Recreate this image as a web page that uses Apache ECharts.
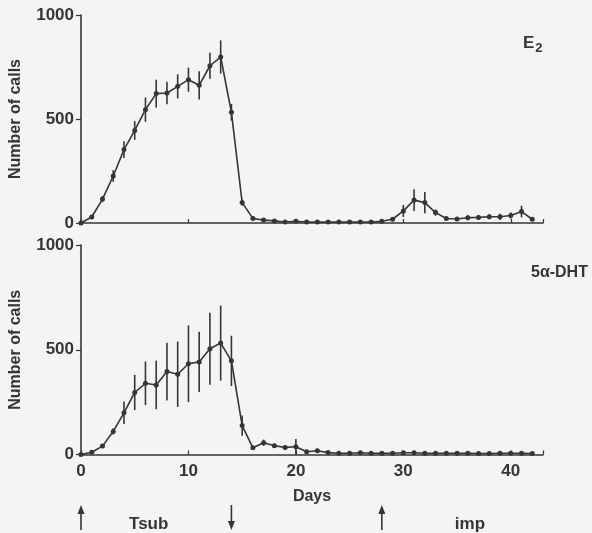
<!DOCTYPE html>
<html>
<head>
<meta charset="utf-8">
<script src="https://cdn.jsdelivr.net/npm/echarts@6/dist/echarts.min.js"></script>
<style>
  html, body { margin: 0; padding: 0; background: #f4f4f2; }
  #main { width: 592px; height: 533px; }
</style>
</head>
<body>
<div id="main"></div>
<script>
// days of the experiment
let days = [];
for (let d = 0; d <= 42; d++) {
    days.push(d);
}

// E2 group: mean number of calls and error (+/-)
let e2Mean = [0, 29, 115, 226, 353, 445, 545, 622, 625, 657,
    689, 662, 756, 798, 532, 98, 22, 14, 10, 5,
    8, 5, 5, 5, 5, 5, 5, 5, 8, 18,
    58, 110, 98, 50, 22, 19, 25, 27, 30, 30,
    36, 55, 18];
let e2Err = [0, 5, 15, 28, 40, 45, 58, 67, 54, 58,
    58, 68, 62, 80, 40, 15, 8, 6, 0, 0,
    8, 0, 0, 0, 0, 0, 0, 0, 0, 5,
    29, 52, 51, 15, 5, 5, 12, 12, 12, 15,
    15, 28, 5];

// 5a-DHT group
let dhtMean = [0, 11, 40, 110, 199, 296, 340, 332, 396, 383,
    433, 442, 505, 532, 447, 138, 32, 56, 42, 34,
    37, 13, 18, 9, 6, 6, 8, 6, 6, 6,
    8, 8, 6, 6, 6, 6, 6, 5, 5, 6,
    6, 6, 5];
let dhtErr = [0, 5, 8, 15, 54, 84, 104, 116, 138, 156,
    183, 144, 172, 179, 120, 48, 8, 15, 10, 10,
    37, 5, 10, 0, 0, 0, 0, 0, 0, 0,
    0, 0, 0, 0, 0, 0, 0, 0, 0, 0,
    0, 0, 0];

let xTicks = [0, 10, 20, 30, 40];
let yTicks = [0, 500, 1000];

// treatment markers under the time axis
let arrowDays = [0, 14, 28];
let arrowDirs = ['up', 'down', 'up'];
let noteDays = [6.3, 36.2];
let noteTexts = ['Tsub', 'imp'];

let ink = '#353535';
let font = '"Liberation Sans", Arial, sans-serif';

function buildErrorSeries(mean, err, idx) {
    return {
        type: 'custom',
        xAxisIndex: idx,
        yAxisIndex: idx,
        silent: true,
        data: days.map(function (d, i) { return [d, mean[i], err[i]]; }),
        renderItem: function (params, api) {
            let x = api.value(0);
            let m = api.value(1);
            let e = api.value(2);
            if (!e) {
                return null;
            }
            let hi = api.coord([x, m + e]);
            let lo = api.coord([x, Math.max(0, m - e)]);
            return {
                type: 'line',
                shape: { x1: hi[0], y1: hi[1], x2: lo[0], y2: lo[1] },
                style: { stroke: ink, lineWidth: 1.6 },
            };
        },
        z: 3,
    };
}

function buildLineSeries(mean, idx) {
    return {
        type: 'line',
        xAxisIndex: idx,
        yAxisIndex: idx,
        data: days.map(function (d, i) { return [d, mean[i]]; }),
        symbol: 'circle',
        symbolSize: 5,
        showAllSymbol: true,
        lineStyle: { color: ink, width: 1.6 },
        itemStyle: { color: ink },
        animation: false,
        z: 4,
    };
}

function buildXAxis(idx, showLabels) {
    return {
        type: 'value',
        gridIndex: idx,
        min: 0,
        max: 43,
        interval: 10,
        axisLine: { lineStyle: { color: ink, width: 1.6 } },
        axisTick: {
            show: true,
            inside: true,
            length: 4,
            lineStyle: { color: ink, width: 1.2 },
        },
        splitLine: { show: false },
        axisLabel: {
            show: showLabels,
            color: ink,
            fontFamily: font,
            fontWeight: 'bold',
            fontSize: 17,
            margin: 8,
            customValues: xTicks,
        },
        name: showLabels ? 'Days' : '',
        nameLocation: 'middle',
        nameGap: 34,
        nameTextStyle: { color: ink, fontFamily: font, fontWeight: 'bold', fontSize: 16 },
    };
}

function buildYAxis(idx) {
    return {
        type: 'value',
        gridIndex: idx,
        min: 0,
        max: 1000,
        interval: 500,
        axisLine: { show: true, lineStyle: { color: ink, width: 1.6 } },
        axisTick: { show: true, length: 5, lineStyle: { color: ink, width: 1.2 } },
        splitLine: { show: false },
        axisLabel: {
            color: ink,
            fontFamily: font,
            fontWeight: 'bold',
            fontSize: 17,
            margin: 7,
            formatter: function (v) { return yTicks.indexOf(v) >= 0 ? String(v) : ''; },
        },
        name: 'Number of calls',
        nameLocation: 'middle',
        nameGap: 57,
        nameTextStyle: { color: ink, fontFamily: font, fontWeight: 'bold', fontSize: 16 },
    };
}

let domObj = document.getElementById('main');
let chart = echarts.init(domObj, null, { renderer: 'canvas' });

let opts = {
    backgroundColor: '#f4f4f2',
    animation: false,
    grid: [
        { left: 80, right: 49, top: 15, height: 208 },
        { left: 80, right: 49, top: 245, height: 209.5 },
    ],
    xAxis: [buildXAxis(0, false), buildXAxis(1, true)],
    yAxis: [buildYAxis(0), buildYAxis(1)],
    series: [
        buildErrorSeries(e2Mean, e2Err, 0),
        buildLineSeries(e2Mean, 0),
        buildErrorSeries(dhtMean, dhtErr, 1),
        buildLineSeries(dhtMean, 1),
    ],
};
chart.setOption(opts, true);

// labels and arrows placed through the axis scale
let graphics = [
    {
        type: 'text',
        left: 523,
        top: 35,
        style: {
            text: '{e|E}{s|2}',
            rich: {
                e: { fontFamily: font, fontWeight: 'bold', fontSize: 17, fill: ink },
                s: { fontFamily: font, fontWeight: 'bold', fontSize: 13, fill: ink, padding: [9, 0, 0, 1] },
            },
        },
    },
    {
        type: 'text',
        left: 531,
        top: 265,
        style: { text: '5α-DHT', fontFamily: font, fontWeight: 'bold', fontSize: 16, fill: ink },
    },
];

arrowDays.forEach(function (d, i) {
    let px = chart.convertToPixel({ xAxisIndex: 1 }, d);
    let yTop = 505;
    let yBot = 530;
    let up = arrowDirs[i] === 'up';
    let tipY = up ? yTop : yBot;
    let baseY = up ? yTop + 9 : yBot - 9;
    graphics.push({
        type: 'line',
        shape: { x1: px, y1: yTop + (up ? 4 : 0), x2: px, y2: yBot - (up ? 0 : 4) },
        style: { stroke: ink, lineWidth: 1.6 },
    });
    graphics.push({
        type: 'polygon',
        shape: { points: [[px, tipY], [px - 3.5, baseY], [px + 3.5, baseY]] },
        style: { fill: ink },
    });
});

noteDays.forEach(function (d, i) {
    let px = chart.convertToPixel({ xAxisIndex: 1 }, d);
    graphics.push({
        type: 'text',
        x: px,
        y: 524,
        style: {
            text: noteTexts[i],
            fontFamily: font,
            fontWeight: 'bold',
            fontSize: 17,
            fill: ink,
            textAlign: 'center',
            textVerticalAlign: 'middle',
        },
    });
});

chart.setOption({ graphic: graphics });
</script>
</body>
</html>
